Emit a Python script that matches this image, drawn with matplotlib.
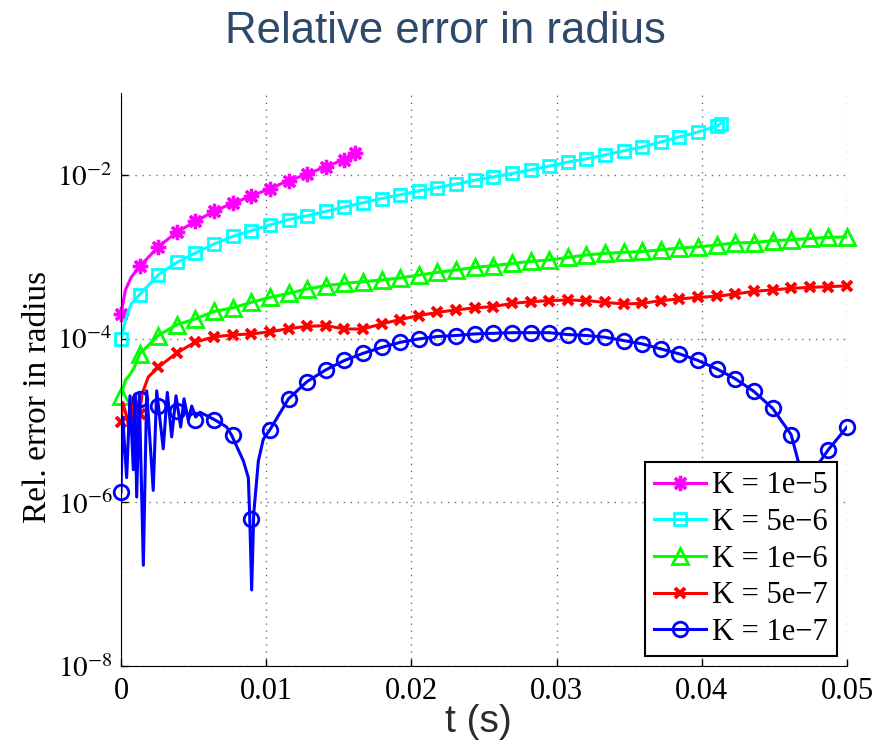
import numpy as np
import matplotlib.pyplot as plt
from matplotlib.lines import Line2D

plt.rcParams['mathtext.fontset'] = 'stix'
plt.rcParams['font.family'] = ['Liberation Serif', 'DejaVu Serif']

# sample times where the markers sit (40 evenly spaced samples over 0..0.05 s)
t_mark = np.linspace(0, 0.05, 40)

# K = 1e-5 (magenta)
k1_t = list(t_mark[:13]) + [0.0161]
k1_v = [2.0e-4, 7.6e-4, 1.32e-3, 2.0e-3, 2.7e-3, 3.6e-3, 4.5e-3, 5.5e-3,
        6.8e-3, 8.5e-3, 1.02e-2, 1.26e-2, 1.54e-2, 1.84e-2]
k1_xt = [0.0003, 0.0007]
k1_xv = [3.9e-4, 5.6e-4]

# K = 5e-6 (cyan)
k2_t = list(t_mark[:33]) + [0.0413]
k2_v = [1.0e-4, 3.44e-4, 6.0e-4, 8.5e-4, 1.11e-3, 1.43e-3, 1.77e-3, 2.08e-3,
        2.44e-3, 2.84e-3, 3.16e-3, 3.57e-3, 4.05e-3, 4.56e-3, 5.14e-3, 5.7e-3,
        6.38e-3, 7.0e-3, 7.7e-3, 8.6e-3, 9.45e-3, 1.04e-2, 1.15e-2, 1.28e-2,
        1.43e-2, 1.57e-2, 1.75e-2, 1.96e-2, 2.19e-2, 2.52e-2, 2.91e-2, 3.34e-2,
        3.93e-2, 4.22e-2]
k2_xt = [0.0003, 0.0007]
k2_xv = [1.66e-4, 2.65e-4]

# K = 1e-6 (green)
k3_t = list(t_mark)
k3_v = [2.0e-5, 6.5e-5, 1.09e-4, 1.48e-4, 1.74e-4, 2.15e-4, 2.37e-4, 2.77e-4,
        3.19e-4, 3.57e-4, 4.04e-4, 4.43e-4, 4.72e-4, 4.96e-4, 5.2e-4, 5.5e-4,
        5.98e-4, 6.44e-4, 6.89e-4, 7.41e-4, 7.77e-4, 8.28e-4, 8.77e-4, 9.12e-4,
        9.8e-4, 1.05e-3, 1.10e-3, 1.13e-3, 1.16e-3, 1.21e-3, 1.28e-3, 1.32e-3,
        1.39e-3, 1.48e-3, 1.49e-3, 1.57e-3, 1.61e-3, 1.67e-3, 1.72e-3, 1.75e-3]
k3_xt = [0.0003, 0.0006, 0.0009]
k3_xv = [3.1e-5, 3.6e-5, 4.4e-5]

# K = 5e-7 (red)
k4_t = list(t_mark)
k4_v = [9.5e-6, 1.2e-5, 4.47e-5, 6.7e-5, 9.06e-5, 1.05e-4, 1.11e-4, 1.14e-4,
        1.21e-4, 1.32e-4, 1.41e-4, 1.44e-4, 1.31e-4, 1.31e-4, 1.51e-4, 1.71e-4,
        1.91e-4, 2.09e-4, 2.24e-4, 2.37e-4, 2.46e-4, 2.69e-4, 2.82e-4, 2.91e-4,
        2.96e-4, 2.91e-4, 2.77e-4, 2.65e-4, 2.69e-4, 2.91e-4, 3.05e-4, 3.19e-4,
        3.28e-4, 3.51e-4, 3.78e-4, 3.93e-4, 4.11e-4, 4.22e-4, 4.31e-4, 4.40e-4]
k4_xt = [0.00012, 0.0004, 0.00062, 0.00085, 0.00105, 0.00145, 0.00188]
k4_xv = [1.66e-5, 1.1e-5, 6.9e-6, 1.92e-5, 1.7e-5, 2.1e-5, 3.4e-5]

# K = 1e-7 (blue) markers
k5_t = list(t_mark)
k5_v = [1.34e-6, 1.85e-5, 1.52e-5, 1.29e-5, 1.0e-5, 1.0e-5, 6.6e-6, 6.3e-7,
        7.7e-6, 1.84e-5, 2.99e-5, 4.15e-5, 5.4e-5, 6.6e-5, 7.8e-5, 9.0e-5,
        9.9e-5, 1.06e-4, 1.09e-4, 1.14e-4, 1.16e-4, 1.18e-4, 1.18e-4, 1.18e-4,
        1.12e-4, 1.09e-4, 1.04e-4, 9.46e-5, 8.61e-5, 7.48e-5, 6.5e-5, 5.4e-5,
        4.27e-5, 3.23e-5, 2.26e-5, 1.41e-5, 6.7e-6, 1.5e-7, 4.4e-6, 8.3e-6]
# blue line: oscillating start, then through markers, dip near 0.0475
k5_early_t = [0, 0.00012, 0.00039, 0.00062, 0.00085, 0.00096, 0.00108, 0.00126,
              0.00154, 0.00177, 0.00222, 0.00246, 0.00291, 0.00319, 0.00349,
              0.00379, 0.00411, 0.00434, 0.00464, 0.00487, 0.00514, 0.00544,
              0.00579, 0.00631, 0.00693, 0.00728, 0.00762, 0.00843, 0.00877,
              0.00886, 0.00900, 0.00914, 0.00946, 0.0098]
k5_early_v = [1.34e-6, 1.1e-5, 2.0e-6, 2.0e-5, 2.5e-6, 2.1e-5, 1.16e-6, 2.1e-5,
              1.7e-7, 2.3e-5, 1.4e-6, 2.3e-5, 4.5e-6, 2.2e-5, 6.3e-6,
              2.0e-5, 8.3e-6, 1.84e-5, 1.0e-5, 1.5e-5, 1.1e-5, 1.26e-5,
              1.17e-5, 1.05e-5, 9.1e-6, 8.3e-6, 6.6e-6, 3.2e-6, 2.0e-6,
              7.2e-7, 8.5e-8, 7.2e-7, 3.2e-6, 5.9e-6]
k5_dip_t = [0.0467, 0.0475, 0.0480]
k5_dip_v = [2.9e-6, 1.2e-7, 2.9e-6]

labels = ['K = 1e\u22125', 'K = 5e\u22126', 'K = 1e\u22126', 'K = 5e\u22127', 'K = 1e\u22127']
xticks = [0, 0.01, 0.02, 0.03, 0.04, 0.05]
xticklabels = ['0', '0.01', '0.02', '0.03', '0.04', '0.05']
yticks = [1e-8, 1e-6, 1e-4, 1e-2]
yticklabels = ['$10^{-8}$', '$10^{-6}$', '$10^{-4}$', '$10^{-2}$']


def merge(t1, v1, t2, v2):
    pts = sorted(zip(list(t1) + list(t2), list(v1) + list(v2)))
    return [p[0] for p in pts], [p[1] for p in pts]


fig = plt.figure(figsize=(8.91, 7.56), dpi=100)
ax = fig.add_axes([0.1358, 0.119, 0.8148, 0.758])

styles = [
    dict(color='#ff00ff', marker=(8, 2, 0), ms=11, mew=2.4, mfc='#ff00ff'),
    dict(color='#00ffff', marker='s', ms=9, mew=2.0, mfc='none'),
    dict(color='#00ff00', marker='^', ms=12, mew=2.0, mfc='none'),
    dict(color='#ff0000', marker='x', ms=7.5, mew=2.8, mfc='none'),
    dict(color='#0000ff', marker='o', ms=10.5, mew=2.0, mfc='none'),
]
lw = 2.2

series = [
    (k1_t, k1_v, k1_xt, k1_xv),
    (k2_t, k2_v, k2_xt, k2_xv),
    (k3_t, k3_v, k3_xt, k3_xv),
    (k4_t, k4_v, k4_xt, k4_xv),
]
for (tm, vm, xt, xv), st in zip(series, styles[:4]):
    lt, lv = merge(tm, vm, xt, xv)
    ax.plot(lt, lv, '-', color=st['color'], lw=lw)
    ax.plot(tm, vm, ls='none', marker=st['marker'], ms=st['ms'], mew=st['mew'],
            mfc=st['mfc'], mec=st['color'], clip_on=False)

# blue
bt, bv = merge(k5_early_t + k5_t[8:37] + k5_t[38:], k5_early_v + k5_v[8:37] + k5_v[38:],
               k5_dip_t, k5_dip_v)
ax.plot(bt, bv, '-', color='#0000ff', lw=lw)
st = styles[4]
ax.plot(k5_t, k5_v, ls='none', marker=st['marker'], ms=st['ms'], mew=st['mew'],
        mfc=st['mfc'], mec=st['color'], clip_on=False)

ax.set_yscale('log')
ax.set_xlim(0, 0.05)
ax.set_ylim(1e-8, 1e-1)
ax.set_xticks(xticks)
ax.set_xticklabels(xticklabels)
ax.set_yticks(yticks)
ax.set_yticklabels(yticklabels)
ax.minorticks_off()
ax.tick_params(direction='in', length=5, width=1, labelsize=22, pad=8)
ax.tick_params(axis='y', labelsize=21, pad=6)
ax.spines['top'].set_visible(False)
ax.spines['right'].set_visible(False)
ax.grid(True, ls=(0, (1, 4)), color='#707070', lw=1.0)

handles = [Line2D([], [], color=s['color'], lw=lw, marker=s['marker'], ms=s['ms'],
                  mew=s['mew'], mfc=s['mfc'], mec=s['color']) for s in styles]
leg = ax.legend(handles, labels, loc='lower right', bbox_to_anchor=(0.986, 0.0175),
                borderaxespad=0, fontsize=22, fancybox=False, framealpha=1,
                edgecolor='black', handlelength=1.7, handletextpad=0.2,
                labelspacing=0.25, borderpad=0.3)
leg.get_frame().set_linewidth(1.5)

fig.text(0.042, 0.475, 'Rel. error in radius', rotation=90, fontsize=24,
         ha='center', va='center')
fig.text(0.5, 0.958, 'Relative error in radius', fontsize=31.5, color='#2e4a6b',
         family='Liberation Sans', ha='center', va='center')
fig.text(0.537, 0.045, 't (s)', fontsize=28, color='#2b2b2b',
         family='Liberation Sans', ha='center', va='center')

fig.savefig('out.png', dpi=100)
